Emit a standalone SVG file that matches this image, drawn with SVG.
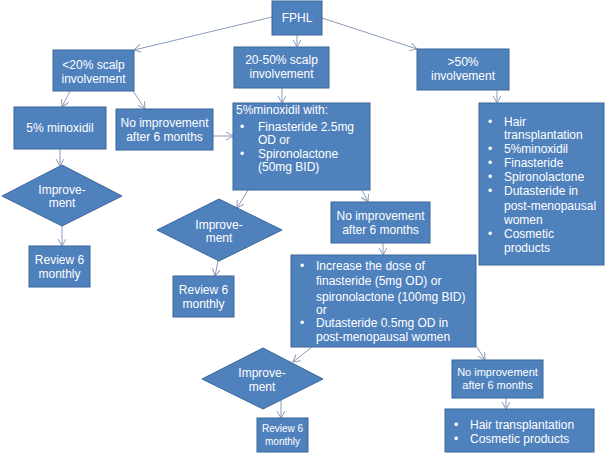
<svg xmlns="http://www.w3.org/2000/svg" width="605" height="454" viewBox="0 0 605 454">
<defs>
<style>
.b{fill:#4F81BD;stroke:#3B6699;stroke-width:1}
.t{fill:#fff;font-family:"Liberation Sans",Arial,sans-serif;font-size:12px}
.c{text-anchor:middle}
.s{font-size:11px}
.xs{font-size:10px}
.e{stroke:#8A9BB8;stroke-width:1;fill:none;marker-end:url(#a)}
</style>
<marker id="a" markerWidth="10" markerHeight="10" refX="7" refY="4" orient="auto" markerUnits="userSpaceOnUse">
<path d="M0,0 L7,4 L0,8" fill="none" stroke="#8A9BB8" stroke-width="1"/>
</marker>
</defs>
<rect width="605" height="454" fill="#fff"/>
<g id="connectors">
<line class="e" x1="272" y1="17" x2="134" y2="50"/>
<line class="e" x1="297" y1="35" x2="297" y2="47"/>
<line class="e" x1="322" y1="18" x2="417" y2="49"/>
<line class="e" x1="70" y1="91" x2="62" y2="107"/>
<line class="e" x1="133" y1="91" x2="145" y2="109"/>
<line class="e" x1="282" y1="88" x2="282" y2="103"/>
<line class="e" x1="213" y1="136" x2="233" y2="136"/>
<line class="e" x1="60" y1="149" x2="60" y2="166"/>
<line class="e" x1="62" y1="226" x2="62" y2="246"/>
<line class="e" x1="248" y1="190" x2="237" y2="208"/>
<line class="e" x1="218" y1="261" x2="215" y2="276"/>
<line class="e" x1="362" y1="190" x2="368" y2="202"/>
<line class="e" x1="383" y1="243" x2="383" y2="255"/>
<line class="e" x1="497" y1="90" x2="497" y2="103"/>
<line class="e" x1="312" y1="347" x2="293" y2="362"/>
<line class="e" x1="281" y1="400" x2="281" y2="418"/>
<line class="e" x1="477" y1="347" x2="485" y2="360"/>
<line class="e" x1="506" y1="398" x2="506" y2="409"/>
</g>
<g id="fphl"><rect class="b" x="272" y="1" width="50" height="34"/><text class="t c" x="297" y="22">FPHL</text></g>
<g id="lt20"><rect class="b" x="53" y="50" width="81" height="41"/><text class="t c" x="93.5" y="69">&lt;20% scalp</text><text class="t c" x="93.5" y="83">involvement</text></g>
<g id="mid2050"><rect class="b" x="234" y="47" width="95" height="41"/><text class="t c" x="281.5" y="64">20-50% scalp</text><text class="t c" x="281.5" y="78">involvement</text></g>
<g id="gt50"><rect class="b" x="417" y="49" width="92" height="41"/><text class="t c" x="463" y="66">&gt;50%</text><text class="t c" x="463" y="80">involvement</text></g>
<g id="minox"><rect class="b" x="14" y="107" width="92" height="42"/><text class="t c" x="60" y="132">5% minoxidil</text></g>
<g id="noimp1"><rect class="b" x="116" y="109" width="97" height="41"/><text class="t c" x="164.5" y="127">No improvement</text><text class="t c" x="164.5" y="141">after 6 months</text></g>
<g id="minoxwith"><rect class="b" x="233" y="103" width="137" height="87"/>
<text class="t" x="236" y="114">5%minoxidil with:</text>
<text class="t" x="240" y="131">•</text><text class="t" x="258" y="131">Finasteride 2.5mg</text>
<text class="t" x="258" y="144">OD or</text>
<text class="t" x="240" y="158">•</text><text class="t" x="258" y="158">Spironolactone</text>
<text class="t" x="258" y="171">(50mg BID)</text></g>
<g id="gt50list"><rect class="b" x="479" y="103" width="125" height="162"/>
<text class="t" x="488" y="126">•</text><text class="t" x="504" y="126">Hair</text>
<text class="t" x="504" y="139">transplantation</text>
<text class="t" x="488" y="153">•</text><text class="t" x="504" y="153">5%minoxidil</text>
<text class="t" x="488" y="167">•</text><text class="t" x="504" y="167">Finasteride</text>
<text class="t" x="488" y="181">•</text><text class="t" x="504" y="181">Spironolactone</text>
<text class="t" x="488" y="195">•</text><text class="t" x="504" y="195">Dutasteride in</text>
<text class="t" x="504" y="210">post-menopausal</text>
<text class="t" x="504" y="224">women</text>
<text class="t" x="488" y="238">•</text><text class="t" x="504" y="238">Cosmetic</text>
<text class="t" x="504" y="252">products</text></g>
<g id="imp1"><polygon class="b" points="2,196 62,165 122,196 62,226"/><text class="t c" x="62" y="194">Improve-</text><text class="t c" x="62" y="207">ment</text></g>
<g id="rev1"><rect class="b" x="29" y="246" width="61" height="41"/><text class="t c" x="59.5" y="264">Review 6</text><text class="t c" x="59.5" y="278">monthly</text></g>
<g id="imp2"><polygon class="b" points="157,230 219,199 282,230 219,261"/><text class="t c" x="219" y="229">Improve-</text><text class="t c" x="219" y="242">ment</text></g>
<g id="rev2"><rect class="b" x="173" y="276" width="61" height="41"/><text class="t c" x="203.5" y="294">Review 6</text><text class="t c" x="203.5" y="308">monthly</text></g>
<g id="noimp2"><rect class="b" x="331" y="202" width="99" height="41"/><text class="t c" x="380.5" y="220">No improvement</text><text class="t c" x="380.5" y="234">after 6 months</text></g>
<g id="increase"><rect class="b" x="291" y="255" width="185" height="92"/>
<text class="t" x="300" y="270">•</text><text class="t" x="316" y="270">Increase the dose of</text>
<text class="t" x="316" y="285">finasteride (5mg OD)  or</text>
<text class="t" x="316" y="301">spironolactone (100mg BID)</text>
<text class="t" x="316" y="314">or</text>
<text class="t" x="300" y="327">•</text><text class="t" x="316" y="327">Dutasteride 0.5mg OD in</text>
<text class="t" x="316" y="341">post-menopausal women</text></g>
<g id="imp3"><polygon class="b" points="202,379 263,348 323,379 263,409"/><text class="t c" x="262" y="377">Improve-</text><text class="t c" x="262" y="391">ment</text></g>
<g id="rev3"><rect class="b" x="257" y="418" width="51" height="34"/><text class="t c xs" x="282.5" y="432">Review 6</text><text class="t c xs" x="282.5" y="445">monthly</text></g>
<g id="noimp3"><rect class="b" x="452" y="360" width="91" height="38"/><text class="t c s" x="497.5" y="376">No improvement</text><text class="t c s" x="497.5" y="389">after 6 months</text></g>
<g id="final"><rect class="b" x="445" y="409" width="149" height="43"/>
<text class="t" x="454" y="429">•</text><text class="t" x="470" y="429">Hair transplantation</text>
<text class="t" x="454" y="443">•</text><text class="t" x="470" y="443">Cosmetic products</text></g>
</svg>
